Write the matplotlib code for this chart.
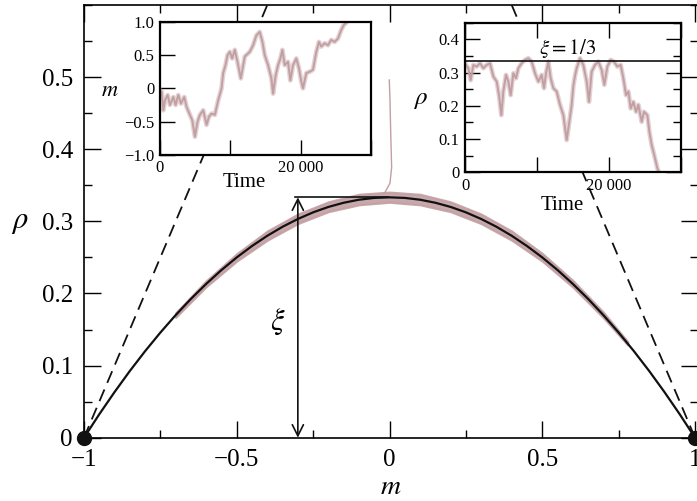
import matplotlib
matplotlib.use("Agg")
import matplotlib.pyplot as plt
from matplotlib.ticker import MultipleLocator

plt.rcParams['font.family'] = ['Liberation Serif', 'DejaVu Serif']
plt.rcParams['mathtext.fontset'] = 'stix'

PINK = '#c29fa2'

# ---- main panel data ----
curve_m = [-1.00, -0.95, -0.90, -0.85, -0.80, -0.75, -0.70, -0.65, -0.60, -0.55,
           -0.50, -0.45, -0.40, -0.35, -0.30, -0.25, -0.20, -0.15, -0.10, -0.05,
           0.00, 0.05, 0.10, 0.15, 0.20, 0.25, 0.30, 0.35, 0.40, 0.45,
           0.50, 0.55, 0.60, 0.65, 0.70, 0.75, 0.80, 0.85, 0.90, 0.95, 1.00]
curve_rho = [0.0000, 0.0325, 0.0633, 0.0925, 0.1200, 0.1458, 0.1700, 0.1925, 0.2133, 0.2325,
             0.2500, 0.2658, 0.2800, 0.2925, 0.3033, 0.3125, 0.3200, 0.3258, 0.3300, 0.3325,
             0.3333, 0.3325, 0.3300, 0.3258, 0.3200, 0.3125, 0.3033, 0.2925, 0.2800, 0.2658,
             0.2500, 0.2325, 0.2133, 0.1925, 0.1700, 0.1458, 0.1200, 0.0925, 0.0633, 0.0325, 0.0000]

band_m = [-0.70, -0.60, -0.50, -0.40, -0.30, -0.20, -0.10, 0.00, 0.10, 0.20,
          0.30, 0.40, 0.50, 0.60, 0.70, 0.78]
band_hi = [0.1730, 0.2175, 0.2550, 0.2865, 0.3100, 0.3270, 0.3375, 0.3405, 0.3375, 0.3270,
           0.3100, 0.2865, 0.2555, 0.2180, 0.1740, 0.1330]
band_lo = [0.1670, 0.2095, 0.2450, 0.2740, 0.2970, 0.3135, 0.3230, 0.3265, 0.3230, 0.3135,
           0.2970, 0.2740, 0.2450, 0.2090, 0.1665, 0.1285]

transient_m = [-0.0007, 0.0016, 0.0040, 0.0070, 0.0016, -0.0150, -0.0300]
transient_rho = [0.496, 0.468, 0.422, 0.375, 0.353, 0.340, 0.337]

dash_left_m = [-1.0, -0.4]
dash_left_rho = [0.0, 0.6]
dash_right_m = [0.4, 1.0]
dash_right_rho = [0.6, 0.0]

xi_value = 1 / 3
xi_m = -0.30

# ---- inset 1: m vs time ----
t1 = [0, 236, 473, 709, 1087, 1418, 1891, 2222, 2600, 2979, 3451, 3782, 4255, 4586,
      4964, 5343, 5674, 6146, 6619, 6950, 7328, 7801, 8274, 8747, 8983, 9314, 9598,
      9929, 10260, 10638, 11016, 11489, 12056, 12766, 13238, 13711, 14184, 14562,
      14893, 15366, 15839, 16076, 16454, 16785, 17115, 17399, 17730, 18203, 18534,
      18912, 19385, 19763, 20094, 20330, 20803, 21276, 21749, 22222, 22600, 22931,
      23404, 23877, 24350, 24823, 25295, 25768, 26099, 26570]
m1 = [-0.02, -0.05, -0.33, -0.18, -0.10, -0.25, -0.13, -0.25, -0.10, -0.23, -0.13, -0.28,
      -0.40, -0.48, -0.73, -0.50, -0.40, -0.33, -0.55, -0.43, -0.38, -0.40, -0.18, 0.00,
      0.23, 0.35, 0.50, 0.55, 0.45, 0.58, 0.40, 0.15, 0.48, 0.55, 0.65, 0.80, 0.85,
      0.70, 0.50, 0.35, 0.15, -0.08, 0.20, 0.35, 0.45, 0.58, 0.35, 0.40, 0.12, 0.35,
      0.45, 0.30, 0.10, 0.00, 0.23, 0.25, 0.28, 0.55, 0.70, 0.63, 0.68, 0.65, 0.73,
      0.70, 0.75, 0.88, 0.95, 1.00]

# ---- inset 2: rho vs time ----
t2 = [0, 139, 463, 787, 1157, 1620, 2083, 2546, 3009, 3473, 3936, 4399, 4723, 5046,
      5324, 5695, 6019, 6343, 6713, 7084, 7408, 7871, 8334, 8797, 9260, 9723, 10186,
      10649, 10973, 11251, 11575, 11899, 12269, 12732, 13195, 13658, 14121, 14492,
      14816, 15047, 15279, 15510, 15973, 16436, 16899, 17223, 17594, 18057, 18520,
      18983, 19353, 19770, 20233, 20696, 21159, 21623, 21993, 22364, 22688, 23012,
      23383, 23753, 24077, 24540, 24864, 25327, 25605, 25929, 26392, 26716, 26901]
rho2 = [0.330, 0.323, 0.313, 0.277, 0.323, 0.318, 0.328, 0.313, 0.323, 0.328, 0.288,
        0.273, 0.232, 0.172, 0.243, 0.293, 0.273, 0.232, 0.298, 0.283, 0.313, 0.328,
        0.338, 0.343, 0.333, 0.298, 0.273, 0.293, 0.253, 0.298, 0.333, 0.283, 0.253,
        0.243, 0.203, 0.172, 0.097, 0.152, 0.203, 0.260, 0.290, 0.313, 0.343, 0.323,
        0.273, 0.212, 0.303, 0.323, 0.333, 0.308, 0.263, 0.318, 0.338, 0.333, 0.318,
        0.323, 0.283, 0.232, 0.243, 0.192, 0.212, 0.182, 0.203, 0.152, 0.182, 0.172,
        0.122, 0.082, 0.042, 0.012, 0.002]

main_xticks = [-1, -0.5, 0, 0.5, 1]
main_xlabels = ['\u22121', '\u22120.5', '0', '0.5', '1']
main_yticks = [0, 0.1, 0.2, 0.3, 0.4, 0.5]
main_ylabels = ['0', '0.1', '0.2', '0.3', '0.4', '0.5']
time_ticks = [0, 10000, 20000, 30000]
time_labels = ['0', '', '20 000', '']
in1_yticks = [-1.0, -0.5, 0, 0.5, 1.0]
in1_ylabels = ['\u22121.0', '\u22120.5', '0', '0.5', '1.0']
in2_yticks = [0, 0.1, 0.2, 0.3, 0.4]
in2_ylabels = ['0', '0.1', '0.2', '0.3', '0.4']

fig = plt.figure(figsize=(6.97, 5.01), dpi=100)

# ---------------- main axes ----------------
ax = fig.add_axes([84 / 697, 1 - 437.7 / 501, (698 - 84) / 697, (437.7 - 5) / 501])
ax.set_xlim(-1, 1.0098)
ax.set_ylim(0, 0.6)

ax.fill_between(band_m, band_lo, band_hi, color=PINK, lw=1.6, edgecolor=PINK,
                alpha=0.9, zorder=2)
ax.plot(transient_m, transient_rho, color=PINK, lw=1.0, zorder=2)
ax.plot(curve_m, curve_rho, color='#111111', lw=1.6, zorder=3)
ax.plot(dash_left_m, dash_left_rho, color='#111111', lw=1.3, dashes=(7, 4), zorder=3)
ax.plot(dash_right_m, dash_right_rho, color='#111111', lw=1.3, dashes=(7, 4), zorder=3)
ax.plot([xi_m - 0.01, -0.005], [xi_value, xi_value], color='#111111', lw=1.2, zorder=3)
ax.annotate('', xy=(xi_m, 0), xytext=(xi_m, xi_value),
            arrowprops=dict(arrowstyle='<->', lw=1.2, color='#111111',
                            mutation_scale=20, shrinkA=0, shrinkB=0), zorder=4)
ax.text(-0.365, 0.16, r'$\xi$', fontsize=22, ha='center', va='center')
ax.plot([-1, 1], [0, 0], 'o', color='#111111', ms=10, clip_on=False, zorder=6)

ax.set_xticks(main_xticks)
ax.set_xticklabels(main_xlabels)
ax.set_yticks(main_yticks)
ax.set_yticklabels(main_ylabels)
ax.xaxis.set_minor_locator(MultipleLocator(0.25))
ax.yaxis.set_minor_locator(MultipleLocator(0.05))
ax.tick_params(which='both', direction='in', top=True, right=True, labelsize=18, width=1.0)
ax.tick_params(which='major', length=12, pad=8)
ax.tick_params(which='minor', length=6)
for s in ax.spines.values():
    s.set_linewidth(1.2)
ax.set_xlabel(r'$m$', fontsize=20)
ax.set_ylabel(r'$\rho$', fontsize=22, rotation=0)
ax.xaxis.set_label_coords(0.5, (437.7 - 488) / 432.7)
ax.yaxis.set_label_coords((20 - 84) / 614, (437.7 - 222) / 432.7)
ax.xaxis.label.set_va('center')
ax.yaxis.label.set_va('center')
ax.yaxis.label.set_ha('center')

# ---------------- inset 1 ----------------
a1 = fig.add_axes([160 / 697, 1 - 154.7 / 501, 211 / 697, 132.7 / 501])
a1.plot(t1, m1, color=PINK, lw=3.4, alpha=0.45)
a1.plot(t1, m1, color=PINK, lw=1.4)
a1.set_xlim(0, 30000)
a1.set_ylim(-1, 1)
a1.set_xticks(time_ticks)
a1.set_xticklabels(time_labels)
a1.set_yticks(in1_yticks)
a1.set_yticklabels(in1_ylabels)
a1.tick_params(direction='in', length=11, width=1.0, labelsize=12, pad=4)
for s in a1.spines.values():
    s.set_linewidth(1.6)
a1.set_xlabel('Time', fontsize=15)
a1.set_ylabel(r'$m$', fontsize=16, rotation=0)
a1.xaxis.set_label_coords(0.40, (154.7 - 182) / 132.7)
a1.yaxis.set_label_coords(-0.237, 0.48)
a1.xaxis.label.set_va('center')
a1.yaxis.label.set_va('center')
a1.yaxis.label.set_ha('center')

# ---------------- inset 2 ----------------
a2 = fig.add_axes([465 / 697, 1 - 172.3 / 501, 216 / 697, 149.6 / 501])
a2.plot(t2, rho2, color=PINK, lw=3.4, alpha=0.45)
a2.plot(t2, rho2, color=PINK, lw=1.4)
a2.axhline(xi_value, color='#111111', lw=1.2)
a2.text(14300, 0.372, r'$\xi = 1/3$', fontsize=15, ha='center', va='center')
a2.set_xlim(0, 30000)
a2.set_ylim(0, 0.45)
a2.set_xticks(time_ticks)
a2.set_xticklabels(time_labels)
a2.set_yticks(in2_yticks)
a2.set_yticklabels(in2_ylabels)
a2.yaxis.set_minor_locator(MultipleLocator(0.05))
a2.tick_params(which='both', direction='in', top=True, right=True, width=1.0,
               labelsize=12, pad=4)
a2.tick_params(which='major', length=11)
a2.tick_params(which='minor', length=6)
for s in a2.spines.values():
    s.set_linewidth(1.6)
a2.set_xlabel('Time', fontsize=15)
a2.set_ylabel(r'$\rho$', fontsize=18, rotation=0)
a2.xaxis.set_label_coords(0.449, (172.3 - 205) / 149.6)
a2.yaxis.set_label_coords(-0.208, 0.483)
a2.xaxis.label.set_va('center')
a2.yaxis.label.set_va('center')
a2.yaxis.label.set_ha('center')

fig.savefig('out.png', dpi=100)
